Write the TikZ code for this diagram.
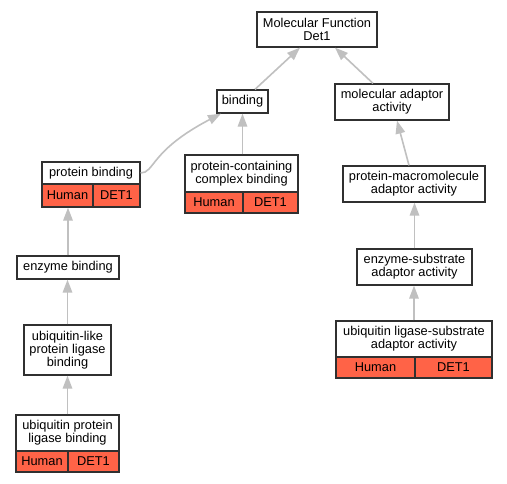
\documentclass[tikz,border=0pt]{standalone}
\usepackage{fontspec}
\setmainfont{Liberation Sans}
\usetikzlibrary{arrows.meta,calc}
\definecolor{tomatored}{HTML}{FF6347}
\definecolor{edgegray}{HTML}{C0C0C0}
\definecolor{boxline}{HTML}{303030}
\tikzset{
  gobox/.style={draw=boxline, line width=1.3pt, fill=white, inner sep=0pt, align=center,
    font=\fontsize{12.8pt}{13.3pt}\selectfont},
  spcell/.style={gobox, fill=tomatored},
  isa/.style={draw=edgegray, line width=1.6pt, -{Triangle[length=13pt,width=9.5pt]}},
}
\begin{document}
\begin{tikzpicture}[x=1pt,y=-1pt]
\useasboundingbox (0,0) rectangle (507,483);
\fill[white] (0,0) rectangle (507,483);
% nodes
\node[gobox, minimum width=120pt, minimum height=35pt] (mf) at (317,29.5) {Molecular Function\\Det1};
\node[gobox, minimum width=51pt, minimum height=23pt] (b) at (242.5,101.5) {binding};
\node[gobox, minimum width=114pt, minimum height=36pt] (maa) at (392,102) {molecular adaptor\\activity};
% protein binding
\node[gobox, minimum width=98pt, minimum height=22pt] (pbt) at (91,173) {protein binding};
\node[spcell, minimum width=51pt, minimum height=23pt] (pbh) at (67.5,195.5) {Human};
\node[spcell, minimum width=47pt, minimum height=23pt] (pbd) at (116.5,195.5) {DET1};
% protein-containing complex binding
\node[gobox, minimum width=113pt, minimum height=37pt] (pccbt) at (241.5,173.5) {protein-containing\\complex binding};
\node[spcell, minimum width=58pt, minimum height=21pt] (pccbh) at (214,202.5) {Human};
\node[spcell, minimum width=55pt, minimum height=21pt] (pccbd) at (270.5,202.5) {DET1};
% protein-macromolecule adaptor activity
\node[gobox, minimum width=142pt, minimum height=36pt] (pmaa) at (414,184) {protein-macromolecule\\adaptor activity};
% enzyme binding
\node[gobox, minimum width=102pt, minimum height=23pt] (eb) at (68,267.5) {enzyme binding};
% ubiquitin-like protein ligase binding
\node[gobox, minimum width=87pt, minimum height=50pt] (ul) at (67.5,350) {ubiquitin-like\\protein ligase\\binding};
% ubiquitin protein ligase binding
\node[gobox, minimum width=103pt, minimum height=36pt] (uplbt) at (67.5,433) {ubiquitin protein\\ligase binding};
\node[spcell, minimum width=52pt, minimum height=21pt] (uplbh) at (42,461.5) {Human};
\node[spcell, minimum width=51pt, minimum height=21pt] (uplbd) at (93.5,461.5) {DET1};
% enzyme-substrate adaptor activity
\node[gobox, minimum width=115pt, minimum height=36pt] (esaa) at (414.5,267) {enzyme-substrate\\adaptor activity};
% ubiquitin ligase-substrate adaptor activity
\node[gobox, minimum width=156pt, minimum height=36pt] (ulsaat) at (414,339) {ubiquitin ligase-substrate\\adaptor activity};
\node[spcell, minimum width=79pt, minimum height=21pt] (ulsaah) at (375.5,367.5) {Human};
\node[spcell, minimum width=77pt, minimum height=21pt] (ulsaad) at (453.5,367.5) {DET1};
% edges
\draw[isa] ($(b.north)+(12.5,0)$) -- ($(mf.south)+(-17,0)$);
\draw[isa] ($(maa.north)+(-19,0)$) -- ($(mf.south)+(18,0)$);
\draw[isa] (pbt.east) .. controls +(14,0) and +(-71,37) .. ($(b.south)+(-21.5,0)$);
\draw[isa] (b.south |- pccbt.north) -- (b.south);
\draw[isa] ($(pmaa.north)+(-5,0)$) -- ($(maa.south)+(5,0)$);
\draw[isa] (eb.north) -- (eb.north |- pbh.south);
\draw[isa] (ul.north) -- (ul.north |- eb.south);
\draw[isa] (uplbt.north) -- (uplbt.north |- ul.south);
\draw[isa] (esaa.north) -- (esaa.north |- pmaa.south);
\draw[isa] (ulsaat.north) -- (ulsaat.north |- esaa.south);
\end{tikzpicture}
\end{document}
